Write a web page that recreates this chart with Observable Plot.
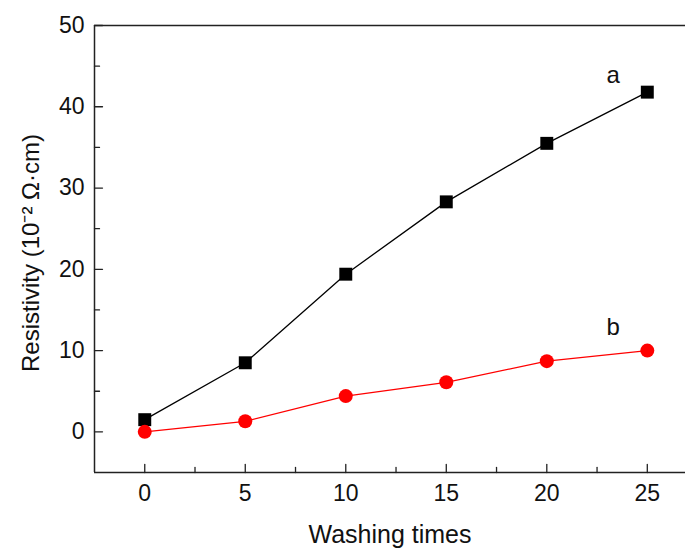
<!DOCTYPE html>
<html><head><meta charset="utf-8">
<script src="https://cdn.jsdelivr.net/npm/d3@7"></script>
<script src="https://cdn.jsdelivr.net/npm/@observablehq/plot@0.6"></script>
<style>
body{margin:0;background:#fff}
svg{font-family:"Liberation Sans",Arial,Helvetica,sans-serif}
</style>
</head><body><div id="chart"></div>
<script>
const washes = [0, 5, 10, 15, 20, 25];
const seriesA = [1.5, 8.5, 19.4, 28.3, 35.5, 41.8];
const seriesB = [0.0, 1.3, 4.4, 6.1, 8.7, 10.0];
const xMajor = [0, 5, 10, 15, 20, 25];
const xMinor = [2.5, 7.5, 12.5, 17.5, 22.5];
const yMajor = [0, 10, 20, 30, 40, 50];
const yMinor = [5, 15, 25, 35, 45];
const xDomain = [-2.5, 26.9];
const yDomain = [-5, 50];
const seriesLabels = [{text: "a", x: 23.3, y: 43.9}, {text: "b", x: 23.3, y: 12.9}];
const xTitle = "Washing times";
const yTitle = "Resistivity (10\u207B\u00B2 \u03A9\u00B7cm)";

const rows = washes.map((w, i) => ({w, a: seriesA[i], b: seriesB[i]}));
const tickShape = {draw(ctx, l) { ctx.moveTo(0, 0); ctx.lineTo(0, -l); }};
const axisColor = "#222";

const chart = Plot.plot({
  width: 685, height: 549,
  marginLeft: 94, marginRight: 0, marginTop: 25, marginBottom: 77,
  x: {domain: xDomain},
  y: {domain: yDomain},
  style: {fontFamily: "Liberation Sans, Arial, sans-serif", background: "#fff"},
  marks: [
    Plot.ruleY([yDomain[0], yDomain[1]], {stroke: axisColor, strokeWidth: 1.5}),
    Plot.ruleX([xDomain[0]], {stroke: axisColor, strokeWidth: 1.5}),
    Plot.vector(xMajor, {x: d => d, frameAnchor: "bottom", length: 8, anchor: "start", shape: tickShape, stroke: axisColor, strokeWidth: 1.3}),
    Plot.vector(xMinor, {x: d => d, frameAnchor: "bottom", length: 5, anchor: "start", shape: tickShape, stroke: axisColor, strokeWidth: 1.3}),
    Plot.vector(yMajor, {y: d => d, frameAnchor: "left", rotate: 90, length: 8, anchor: "start", shape: tickShape, stroke: axisColor, strokeWidth: 1.3}),
    Plot.vector(yMinor, {y: d => d, frameAnchor: "left", rotate: 90, length: 5, anchor: "start", shape: tickShape, stroke: axisColor, strokeWidth: 1.3}),
    Plot.axisX(xMajor, {tickSize: 0, tickPadding: 12, fontSize: 23, label: null, color: "#111"}),
    Plot.axisY(yMajor, {tickSize: 0, tickPadding: 10, fontSize: 23, label: null, color: "#111"}),
    Plot.text([xTitle], {text: d => d, frameAnchor: "bottom", dy: 70, fontSize: 25, fill: "#111"}),
    Plot.text([yTitle], {text: d => d, frameAnchor: "left", textAnchor: "middle", lineAnchor: "middle", rotate: -90, dx: -63, dy: 4, fontSize: 24, fill: "#111"}),
    Plot.line(rows, {x: "w", y: "a", stroke: "black", strokeWidth: 1.3}),
    Plot.line(rows, {x: "w", y: "b", stroke: "#ff0000", strokeWidth: 1.3}),
    Plot.dot(rows, {x: "w", y: "a", symbol: "square", r: 7.3, fill: "black"}),
    Plot.dot(rows, {x: "w", y: "b", symbol: "circle", r: 7, fill: "#ff0000"}),
    Plot.text(seriesLabels, {x: "x", y: "y", text: "text", fontSize: 24, fill: "#111"})
  ]
});
document.getElementById("chart").append(chart);
</script>
</body></html>
